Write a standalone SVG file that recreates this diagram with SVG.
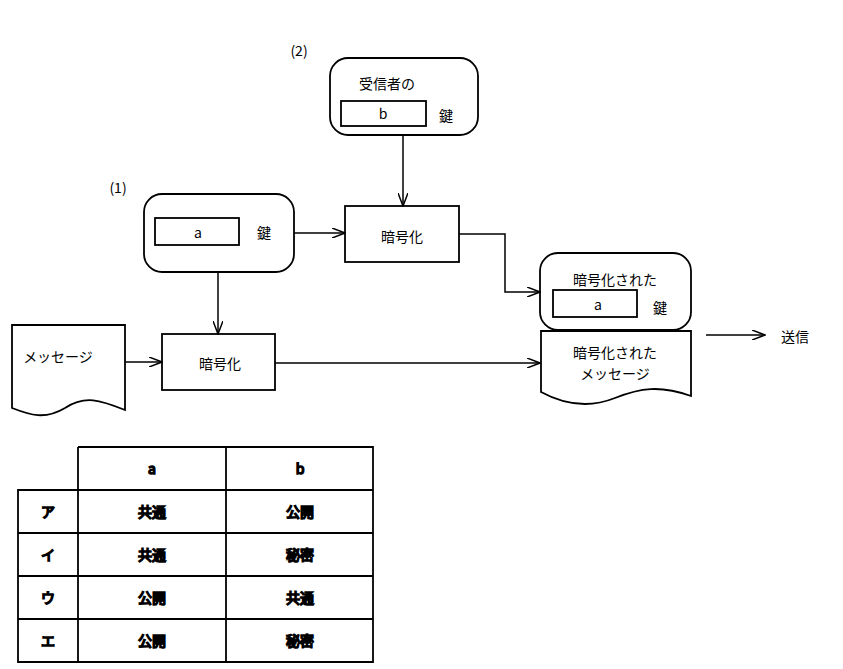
<svg xmlns="http://www.w3.org/2000/svg" width="843" height="669" viewBox="0 0 843 669">
<style>
.s{fill:#fff;stroke:#000;stroke-width:1.8}
.l{fill:none;stroke:#000;stroke-width:1.5}
text{font-family:"Noto Sans CJK JP","Liberation Sans",sans-serif;font-size:14px;fill:#000;text-anchor:middle;dominant-baseline:central}
</style>
<defs><marker id="a" markerWidth="14" markerHeight="10" refX="13" refY="5" orient="auto" markerUnits="userSpaceOnUse"><path d="M0,0 L13,5 L0,10" fill="none" stroke="#000" stroke-width="1.5"/></marker></defs>
<rect width="843" height="669" fill="#fff"/>
<text x="299" y="50">(2)</text>
<text x="118" y="187">(1)</text>
<g id="recvKey"><rect class="s" x="330" y="58" width="148" height="77" rx="18"/><text x="387" y="83">受信者の</text><rect class="s" x="341" y="101" width="85" height="25"/><text x="383" y="113">b</text><text x="446" y="115">鍵</text></g>
<g id="keyA"><rect class="s" x="144" y="194" width="150" height="78" rx="18"/><rect class="s" x="155" y="218" width="84" height="27"/><text x="198" y="232">a</text><text x="264" y="232">鍵</text></g>
<g id="enc1"><rect class="s" x="345" y="206" width="114" height="56"/><text x="402" y="236">暗号化</text></g>
<g id="enc2"><rect class="s" x="162" y="334" width="113" height="56"/><text x="220" y="363">暗号化</text></g>
<g id="msg"><path class="s" d="M12,325 H125 V410 C100,400 85,395 65,408 C45,420 30,415 12,408 Z"/><text x="58" y="356">メッセージ</text></g>
<g id="encKey"><rect class="s" x="540" y="253" width="151" height="77" rx="18"/><text x="615" y="279">暗号化された</text><rect class="s" x="553" y="290" width="84" height="27"/><text x="598" y="304">a</text><text x="660" y="307">鍵</text></g>
<g id="encMsg"><path class="s" d="M541,331 H691 V396 C660,385 640,388 615,398 C590,408 565,405 541,392 Z"/><text x="615" y="352">暗号化された</text><text x="615" y="373">メッセージ</text></g>
<text x="795" y="336">送信</text>
<g id="connectors">
<path class="l" d="M403,135 V206" marker-end="url(#a)"/>
<path class="l" d="M294,233 H345" marker-end="url(#a)"/>
<path class="l" d="M218,272 V334" marker-end="url(#a)"/>
<path class="l" d="M125,362 H162" marker-end="url(#a)"/>
<path class="l" d="M275,363 H540" marker-end="url(#a)"/>
<path class="l" d="M459,234 H505 V292 H540" marker-end="url(#a)"/>
<path class="l" d="M706,335 H765" marker-end="url(#a)"/>
</g>
<g id="table" class="l">
<path class="l" d="M78,447 H373 V662 H18 V490 H373 M18,533 H373 M18,576 H373 M18,619 H373 M78,447 V662 M226,447 V662" style="stroke-width:1.8"/>
<text x="152" y="468">a</text><text x="300" y="468">b</text>
<text x="48" y="511">ア</text><text x="152" y="511">共通</text><text x="300" y="511">公開</text>
<text x="48" y="554">イ</text><text x="152" y="554">共通</text><text x="300" y="554">秘密</text>
<text x="48" y="597">ウ</text><text x="152" y="597">公開</text><text x="300" y="597">共通</text>
<text x="48" y="640">エ</text><text x="152" y="640">公開</text><text x="300" y="640">秘密</text>
</g>
</svg>
